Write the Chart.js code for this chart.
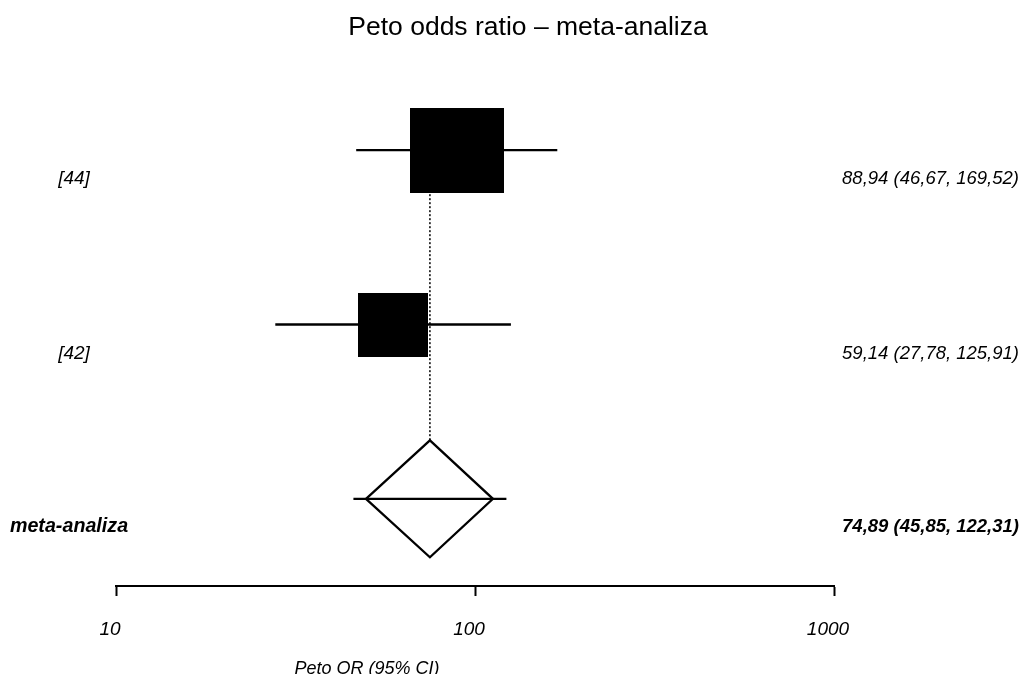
<!DOCTYPE html>
<html>
<head>
<meta charset="utf-8">
<script src="https://cdn.jsdelivr.net/npm/chart.js@4.4.0/dist/chart.umd.min.js"></script>
<style>
  html, body { margin: 0; padding: 0; background: #fff; }
</style>
</head>
<body>
<canvas id="forest" width="1024" height="674"></canvas>
<script>
// study data (Peto OR with 95% CI)
var studies = ['[44]', '[42]'];
var orValues = [88.94, 59.14];
var ciLower = [46.67, 27.78];
var ciUpper = [169.52, 125.91];
var weights = [64, 36];

var pooledLabel = 'meta-analiza';
var pooledOR = 74.89;
var pooledLower = 45.85;
var pooledUpper = 122.31;
var diamondEdges = [49.7, 112.2];

var xTicks = [10, 100, 1000];
var chartTitle = 'Peto odds ratio \u2013 meta-analiza';
var axisTitle = 'Peto OR (95% CI)';

var FONT = '"Liberation Sans", Arial, sans-serif';
var nRows = studies.length + 1;
var diamondHalf = 0.335;

var fmt = function(v) { return v.toFixed(2).replace('.', ','); };
var rowOf = function(i) { return nRows - i; };

var boxImage = function(w) {
  var c = document.createElement('canvas');
  var s = Math.sqrt(w / 100);
  c.width = Math.round(117 * s);
  c.height = Math.round(106 * s);
  var g = c.getContext('2d');
  g.fillStyle = '#000';
  g.fillRect(0, 0, c.width, c.height);
  return c;
};

var datasets = [];

// dotted reference line at pooled estimate
datasets.push({
  data: [{x: pooledOR, y: rowOf(0)}, {x: pooledOR, y: 1 + diamondHalf}],
  showLine: true, borderColor: '#000', borderWidth: 1.5, borderDash: [2, 2],
  pointRadius: 0, order: 5
});

// CI whiskers
for (let i = 0; i < studies.length; i++) {
  datasets.push({
    data: [{x: ciLower[i], y: rowOf(i)}, {x: ciUpper[i], y: rowOf(i)}],
    showLine: true, borderColor: '#000', borderWidth: 2.3, pointRadius: 0, order: 4
  });
}
datasets.push({
  data: [{x: pooledLower, y: 1}, {x: pooledUpper, y: 1}],
  showLine: true, borderColor: '#000', borderWidth: 2.3, pointRadius: 0, order: 4
});

// weighted boxes
var boxes = weights.map(boxImage);
datasets.push({
  data: orValues.map(function(v, i) { return {x: v, y: rowOf(i)}; }),
  pointStyle: function(ctx) { return boxes[ctx.dataIndex]; },
  pointRadius: 5, showLine: false, order: 1
});

// pooled diamond
datasets.push({
  data: [
    {x: diamondEdges[0], y: 1},
    {x: pooledOR, y: 1 + diamondHalf},
    {x: diamondEdges[1], y: 1},
    {x: pooledOR, y: 1 - diamondHalf},
    {x: diamondEdges[0], y: 1}
  ],
  showLine: true, borderColor: '#000', borderWidth: 2.3, pointRadius: 0, fill: false, order: 2
});

var textPlugin = {
  id: 'forestText',
  afterDraw: function(chart) {
    var ctx = chart.ctx;
    var y = chart.scales.y;
    ctx.save();
    ctx.fillStyle = '#000';
    ctx.textBaseline = 'alphabetic';

    ctx.font = '26.5px ' + FONT;
    ctx.textAlign = 'center';
    ctx.fillText(chartTitle, 528, 35);

    for (let i = 0; i < studies.length; i++) {
      var py = y.getPixelForValue(rowOf(i)) + 34;
      ctx.font = 'italic 19px ' + FONT;
      ctx.textAlign = 'center';
      ctx.fillText(studies[i], 74, py);
      ctx.font = 'italic 18.5px ' + FONT;
      ctx.textAlign = 'right';
      ctx.fillText(fmt(orValues[i]) + ' (' + fmt(ciLower[i]) + ', ' + fmt(ciUpper[i]) + ')', 1019, py);
    }
    var pp = y.getPixelForValue(1) + 33;
    ctx.font = 'italic bold 19.7px ' + FONT;
    ctx.textAlign = 'center';
    ctx.fillText(pooledLabel, 69, pp);
    ctx.font = 'italic bold 18.5px ' + FONT;
    ctx.textAlign = 'right';
    ctx.fillText(fmt(pooledOR) + ' (' + fmt(pooledLower) + ', ' + fmt(pooledUpper) + ')', 1019, pp);

    ctx.font = 'italic 18px ' + FONT;
    ctx.textAlign = 'center';
    ctx.fillText(axisTitle, 367, 674);
    ctx.restore();
  }
};

new Chart(document.getElementById('forest').getContext('2d'), {
  type: 'scatter',
  data: { datasets: datasets },
  options: {
    responsive: false,
    animation: false,
    layout: { padding: { left: 116, right: 190, top: 63, bottom: 0 } },
    plugins: {
      legend: { display: false },
      tooltip: { enabled: false }
    },
    scales: {
      x: {
        type: 'logarithmic',
        min: 10,
        max: 1000,
        afterBuildTicks: function(scale) {
          scale.ticks = xTicks.map(function(v) { return {value: v}; });
        },
        afterFit: function(scale) { scale.height = 88; },
        grid: { drawOnChartArea: false, drawTicks: true, tickLength: 10, tickWidth: 2, tickColor: '#000' },
        border: { display: true, color: '#000', width: 2 },
        ticks: {
          color: '#000',
          autoSkip: false,
          maxRotation: 0,
          padding: 22,
          labelOffset: -6,
          font: { family: FONT, size: 19, style: 'italic' },
          callback: function(v) { return String(v); }
        }
      },
      y: { display: false, min: 0.5, max: 3.5 }
    }
  },
  plugins: [textPlugin]
});
</script>
</body>
</html>
